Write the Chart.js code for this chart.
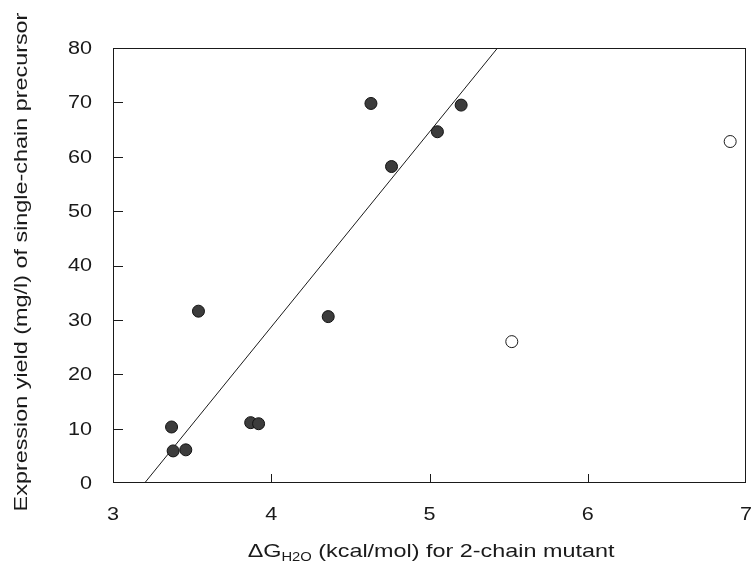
<!DOCTYPE html>
<html lang="en">
<head>
    <meta charset="UTF-8">
    <title>Expression yield vs ΔG</title>
    <script src="https://cdn.jsdelivr.net/npm/chart.js"></script>
    <style>
        html, body { margin: 0; padding: 0; background: #fff; }
        .chart-box { position: relative; width: 753px; height: 574px; }
    </style>
</head>
<body>
    <div class="chart-box">
        <canvas id="yieldChart"></canvas>
    </div>

    <script>
        // Datos
        const filledX = [3.37, 3.38, 3.46, 3.54, 3.87, 3.92, 4.36, 4.63, 4.76, 5.05, 5.20];
        const filledY = [10.3, 5.9, 6.1, 31.6, 11.1, 10.9, 30.6, 69.8, 58.2, 64.6, 69.5];
        const openX = [5.52, 6.90];
        const openY = [26.0, 62.8];
        const fitX = [3.20, 5.43];
        const fitY = [0, 80];
        const xTicks = [3, 4, 5, 6, 7];
        const yTicks = [0, 10, 20, 30, 40, 50, 60, 70, 80];

        const toPoints = (xs, ys) => xs.map((x, i) => ({ x: x, y: ys[i] }));
        const FONT = "'Liberation Sans', Arial, sans-serif";
        const INK = '#1a1a1a';
        const STRETCH = 1.2;   // el texto del original es más ancho que Arial

        // texto ensanchado horizontalmente
        function wideText(ctx, text, x, y, font, align, stretch) {
            ctx.save();
            ctx.font = font;
            ctx.textAlign = align;
            ctx.textBaseline = 'middle';
            ctx.translate(x, y);
            ctx.scale(stretch, 1);
            ctx.fillText(text, 0, 0);
            ctx.restore();
        }

        // Marco, marcas hacia adentro, etiquetas y títulos
        const framePlugin = {
            id: 'frame',
            afterDatasetsDraw(chart) {
                const { ctx, chartArea: a, scales } = chart;
                ctx.save();
                ctx.strokeStyle = INK;
                ctx.lineWidth = 1;
                ctx.strokeRect(a.left + 0.5, a.top + 0.5, a.right - a.left - 1, a.bottom - a.top - 1);
                ctx.beginPath();
                yTicks.slice(1, -1).forEach(v => {
                    const py = Math.round(scales.y.getPixelForValue(v)) + 0.5;
                    ctx.moveTo(a.left, py);
                    ctx.lineTo(a.left + 10, py);
                });
                xTicks.slice(1, -1).forEach(v => {
                    const px = Math.round(scales.x.getPixelForValue(v)) + 0.5;
                    ctx.moveTo(px, a.bottom);
                    ctx.lineTo(px, a.bottom - 9);
                });
                ctx.stroke();
                ctx.restore();
            },
            afterDraw(chart) {
                const { ctx, chartArea: a, scales } = chart;
                ctx.save();
                ctx.fillStyle = INK;
                const tickFont = '18px ' + FONT;
                yTicks.forEach(v => {
                    wideText(ctx, String(v), a.left - 21, scales.y.getPixelForValue(v) + 1, tickFont, 'right', STRETCH);
                });
                xTicks.forEach(v => {
                    wideText(ctx, String(v), scales.x.getPixelForValue(v), a.bottom + 32, tickFont, 'center', STRETCH);
                });

                // título eje Y
                ctx.save();
                ctx.translate(22, 262);
                ctx.rotate(-Math.PI / 2);
                wideText(ctx, 'Expression yield (mg/l) of single-chain precursor', 0, 0, '19px ' + FONT, 'center', 1.23);
                ctx.restore();

                // título eje X con subíndice
                const big = '19px ' + FONT, small = '12px ' + FONT;
                const p1 = 'ΔG', sub = 'H2O', p2 = ' (kcal/mol) for 2-chain mutant';
                const k = 1.23;
                ctx.font = big;
                const w1 = ctx.measureText(p1).width * k, w3 = ctx.measureText(p2).width * k;
                ctx.font = small;
                const w2 = ctx.measureText(sub).width * k;
                let x = 431 - (w1 + w2 + w3) / 2;
                const y = 552;
                wideText(ctx, p1, x, y, big, 'left', k);
                x += w1;
                wideText(ctx, sub, x, y + 6, small, 'left', k);
                x += w2;
                wideText(ctx, p2, x, y, big, 'left', k);
                ctx.restore();
            }
        };

        const ctx = document.getElementById('yieldChart').getContext('2d');
        new Chart(ctx, {
            type: 'scatter',
            data: {
                datasets: [
                    {
                        label: 'Ajuste',
                        data: toPoints(fitX, fitY),
                        showLine: true,
                        borderColor: INK,
                        borderWidth: 1,
                        pointRadius: 0,
                        order: 3
                    },
                    {
                        label: 'Mutantes',
                        data: toPoints(filledX, filledY),
                        pointRadius: 6,
                        pointBackgroundColor: '#3c3c3c',
                        pointBorderColor: '#111',
                        pointBorderWidth: 1,
                        order: 1
                    },
                    {
                        label: 'Excluidos',
                        data: toPoints(openX, openY),
                        pointRadius: 6,
                        pointBackgroundColor: '#fff',
                        pointBorderColor: INK,
                        pointBorderWidth: 1,
                        order: 2
                    }
                ]
            },
            options: {
                responsive: true,
                maintainAspectRatio: false,
                animation: false,
                layout: { padding: { top: 48, right: 6, left: 0, bottom: 0 } },
                plugins: {
                    legend: { display: false },
                    tooltip: { enabled: false }
                },
                scales: {
                    x: {
                        type: 'linear',
                        min: 3,
                        max: 7,
                        afterFit: s => { s.height = 91; s.paddingLeft = 0; s.paddingRight = 0; },
                        grid: { display: false, drawTicks: false },
                        border: { display: false },
                        ticks: { display: false }
                    },
                    y: {
                        min: 0,
                        max: 80,
                        afterFit: s => { s.width = 113; s.paddingTop = 0; s.paddingBottom = 0; },
                        grid: { display: false, drawTicks: false },
                        border: { display: false },
                        ticks: { display: false }
                    }
                }
            },
            plugins: [framePlugin]
        });
    </script>
</body>
</html>
